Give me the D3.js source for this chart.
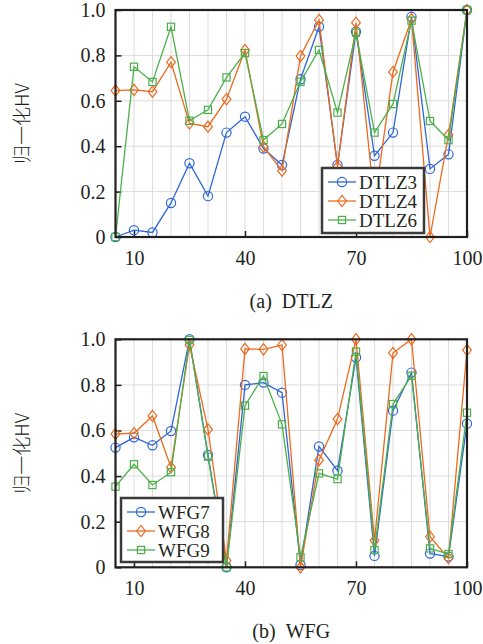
<!DOCTYPE html>
<html>
<head>
<meta charset="utf-8">
<script src="https://cdn.jsdelivr.net/npm/d3@7"></script>
<style>
  html, body { margin: 0; padding: 0; background: #fff; }
  svg { display: block; }
  svg text { font-family: "Liberation Serif", "Times New Roman", Tinos, "DejaVu Serif", serif; }
</style>
</head>
<body>
<div id="main"></div>
<script>
// data
const xValues = [5, 10, 15, 20, 25, 30, 35, 40, 45, 50, 55, 60, 65, 70, 75, 80, 85, 90, 95, 100];
const xTicks = [10, 40, 70, 100];
const yTicks = [0, 0.2, 0.4, 0.6, 0.8, 1.0];

const dtlzNames = ['DTLZ3', 'DTLZ4', 'DTLZ6'];
const dtlz3 = [0, 0.03, 0.02, 0.15, 0.325, 0.18, 0.46, 0.53, 0.39, 0.317, 0.695, 0.926, 0.317, 0.905, 0.358, 0.46, 0.97, 0.30, 0.364, 1.0];
const dtlz4 = [0.645, 0.648, 0.64, 0.77, 0.50, 0.486, 0.607, 0.824, 0.398, 0.292, 0.797, 0.956, 0.31, 0.944, 0.15, 0.727, 0.96, 0.0, 0.45, 1.0];
const dtlz6 = [0, 0.75, 0.683, 0.926, 0.512, 0.56, 0.703, 0.81, 0.427, 0.498, 0.684, 0.824, 0.548, 0.90, 0.46, 0.586, 0.953, 0.511, 0.427, 1.0];

const wfgNames = ['WFG7', 'WFG8', 'WFG9'];
const wfg7 = [0.525, 0.57, 0.535, 0.598, 1.0, 0.493, 0.0, 0.80, 0.81, 0.766, 0.01, 0.53, 0.424, 0.92, 0.05, 0.687, 0.854, 0.06, 0.047, 0.63];
const wfg8 = [0.585, 0.588, 0.664, 0.439, 0.975, 0.605, 0.03, 0.958, 0.956, 0.975, 0.0, 0.47, 0.65, 1.0, 0.117, 0.94, 1.0, 0.134, 0.04, 0.953];
const wfg9 = [0.354, 0.452, 0.361, 0.417, 0.997, 0.485, 0.0, 0.709, 0.839, 0.627, 0.044, 0.412, 0.387, 0.946, 0.076, 0.716, 0.84, 0.083, 0.058, 0.678];

!(function () {
  'use strict';

  const colors = ['#2f66d6', '#ec6a1e', '#4cb04a'];
  const markers = ['circle', 'diamond', 'square'];
  const ink = '#231f20';

  const canvas = { width: 483, height: 644 };

  const panels = [
    { top: 10, bottom: 237, names: dtlzNames, series: [dtlz3, dtlz4, dtlz6], caption: '(a)\u00a0\u00a0DTLZ',
      legend: { x: 322, y: 168, w: 102, h: 65 } },
    { top: 339.3, bottom: 567.3, names: wfgNames, series: [wfg7, wfg8, wfg9], caption: '(b)\u00a0\u00a0WFG',
      legend: { x: 121, y: 498, w: 102, h: 64 } }
  ];

  const svg = d3.select('#main')
    .append('svg')
    .attr('width', canvas.width)
    .attr('height', canvas.height);

  const xScale = d3.scaleLinear().domain([5, 100]).range([115.5, 467]);

  function drawMarker(g, type, x, y, color) {
    if (type === 'circle') {
      g.append('circle').attr('cx', x).attr('cy', y).attr('r', 4.6)
        .attr('fill', 'none').attr('stroke', color).attr('stroke-width', 1.2);
    } else if (type === 'diamond') {
      const s = 5.6;
      g.append('path')
        .attr('d', `M${x},${y - s}L${x + s * 0.78},${y}L${x},${y + s}L${x - s * 0.78},${y}Z`)
        .attr('fill', 'none').attr('stroke', color).attr('stroke-width', 1.2);
    } else {
      const s = 3.6;
      g.append('rect').attr('x', x - s).attr('y', y - s).attr('width', 2 * s).attr('height', 2 * s)
        .attr('fill', 'none').attr('stroke', color).attr('stroke-width', 1.2);
    }
  }

  function drawPanel(p) {
    const yScale = d3.scaleLinear().domain([0, 1]).range([p.bottom, p.top]);
    const g = svg.append('g');
    const [x0, x1] = xScale.range();

    // grid
    const grid = g.append('g').attr('stroke', '#dcdcdc').attr('stroke-width', 1);
    d3.range(5, 101, 5).forEach(v => {
      grid.append('line').attr('x1', xScale(v)).attr('x2', xScale(v))
        .attr('y1', p.top).attr('y2', p.bottom);
    });
    yTicks.forEach(v => {
      grid.append('line').attr('x1', x0).attr('x2', x1)
        .attr('y1', yScale(v)).attr('y2', yScale(v));
    });

    // axes
    const xAxis = g.append('g')
      .attr('transform', `translate(0,${p.bottom})`)
      .call(d3.axisBottom(xScale).tickValues(xTicks).tickSizeInner(-6).tickSizeOuter(0).tickPadding(14));
    const yAxis = g.append('g')
      .attr('transform', `translate(${x0},0)`)
      .call(d3.axisLeft(yScale).tickValues(yTicks).tickSizeInner(-6).tickSizeOuter(0).tickPadding(10)
        .tickFormat(d => d === 0 ? '0' : d3.format('.1f')(d)));
    [xAxis, yAxis].forEach(a => {
      a.attr('font-family', null);
      a.select('.domain').remove();
      a.selectAll('line').attr('stroke', ink).attr('stroke-width', 1.5);
      a.selectAll('text').attr('fill', ink).style('font-size', '20px');
    });

    // series
    const line = d3.line().x((d, i) => xScale(xValues[i])).y(d => yScale(d));
    p.series.forEach((s, k) => {
      const sg = g.append('g');
      sg.append('path').datum(s).attr('d', line)
        .attr('fill', 'none').attr('stroke', colors[k]).attr('stroke-width', 1.3);
      s.forEach((v, i) => drawMarker(sg, markers[k], xScale(xValues[i]), yScale(v), colors[k]));
    });

    // frame
    g.append('rect').attr('x', x0).attr('y', p.top)
      .attr('width', x1 - x0).attr('height', p.bottom - p.top)
      .attr('fill', 'none').attr('stroke', ink).attr('stroke-width', 2.2);

    // legend
    const L = p.legend;
    const lg = g.append('g');
    lg.append('rect').attr('x', L.x).attr('y', L.y).attr('width', L.w).attr('height', L.h)
      .attr('fill', '#fff').attr('stroke', '#3a3a3a').attr('stroke-width', 2.5);
    p.names.forEach((name, k) => {
      const cy = L.y + 14 + k * 19;
      lg.append('line').attr('x1', L.x + 6).attr('x2', L.x + 34).attr('y1', cy).attr('y2', cy)
        .attr('stroke', colors[k]).attr('stroke-width', 1.3);
      drawMarker(lg, markers[k], L.x + 20, cy, colors[k]);
      lg.append('text').attr('x', L.x + 37).attr('y', cy + 6.5)
        .attr('fill', ink).style('font-size', '19px').text(name);
    });

    // y label
    g.append('text')
      .attr('transform', `translate(29,${(p.top + p.bottom) / 2}) rotate(-90)`)
      .attr('text-anchor', 'middle')
      .attr('fill', ink).style('font-size', '19px')
      .style('font-family', '"Noto Sans CJK SC", sans-serif')
      .style('font-weight', '300')
      .text('归一化HV');

    // caption
    g.append('text')
      .attr('x', (x0 + x1) / 2).attr('y', p.bottom + 71)
      .attr('text-anchor', 'middle')
      .attr('fill', ink).style('font-size', '20px')
      .text(p.caption);
  }

  panels.forEach(drawPanel);
}());
</script>
</body>
</html>
